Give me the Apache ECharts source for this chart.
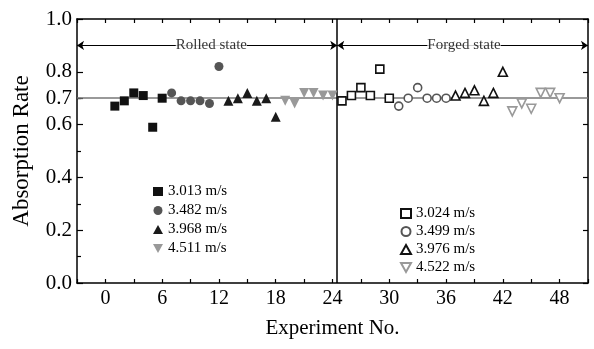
<!DOCTYPE html>
<html>
<head>
<meta charset="utf-8">
<script src="https://cdn.jsdelivr.net/npm/echarts@6/dist/echarts.min.js"></script>
<style>
  html, body { margin: 0; padding: 0; background: #fff; }
  #chart { width: 594px; height: 349px; }
</style>
</head>
<body>
<div id="chart"></div>
<script>
// rolled state
const rolledSquareX = [1, 2, 3, 4, 5, 6];
const rolledSquareY = [0.67, 0.69, 0.72, 0.71, 0.59, 0.70];
const rolledCircleX = [7, 8, 9, 10, 11, 12];
const rolledCircleY = [0.72, 0.69, 0.69, 0.69, 0.68, 0.82];
const rolledTriX = [13, 14, 15, 16, 17, 18];
const rolledTriY = [0.69, 0.70, 0.72, 0.69, 0.70, 0.63];
const rolledDownX = [19, 20, 21, 22, 23, 24];
const rolledDownY = [0.69, 0.68, 0.72, 0.72, 0.71, 0.71];
// forged state
const forgedSquareX = [25, 26, 27, 28, 29, 30];
const forgedSquareY = [0.69, 0.71, 0.74, 0.71, 0.81, 0.70];
const forgedCircleX = [31, 32, 33, 34, 35, 36];
const forgedCircleY = [0.67, 0.70, 0.74, 0.70, 0.70, 0.70];
const forgedTriX = [37, 38, 39, 40, 41, 42];
const forgedTriY = [0.71, 0.72, 0.73, 0.69, 0.72, 0.80];
const forgedDownX = [43, 44, 45, 46, 47, 48];
const forgedDownY = [0.65, 0.68, 0.66, 0.72, 0.72, 0.70];

const rolledNames = ['3.013 m/s', '3.482 m/s', '3.968 m/s', '4.511 m/s'];
const forgedNames = ['3.024 m/s', '3.499 m/s', '3.976 m/s', '4.522 m/s'];
const yLabelValues = [0, 0.2, 0.4, 0.6, 0.7, 0.8, 1.0];
const refLevel = 0.7;
const splitAt = 24.5;
const arrowLevel = 0.9;

const font = 'Liberation Serif, Times New Roman, serif';
const downTri = 'path://M0,0 L10,0 L5,9 Z';

function pts(xs, ys) {
  return xs.map((x, i) => [x, ys[i]]);
}

function filled(name, xs, ys, symbol, color, size) {
  return {
    name: name, type: 'scatter', data: pts(xs, ys),
    symbol: symbol, symbolSize: size,
    itemStyle: { color: color, opacity: 1 }, z: 5
  };
}

function hollow(name, xs, ys, symbol, color, size) {
  return {
    name: name, type: 'scatter', data: pts(xs, ys),
    symbol: symbol, symbolSize: size,
    itemStyle: { color: '#fff', borderColor: color, borderWidth: 1.6, opacity: 1 }, z: 5
  };
}

const chart = echarts.init(document.getElementById('chart'));

chart.setOption({
  backgroundColor: '#fff',
  animation: false,
  textStyle: { fontFamily: font },
  grid: { left: 77, right: 6, top: 19, bottom: 66 },
  legend: [
    {
      data: rolledNames, orient: 'vertical', left: 148, top: 179,
      itemWidth: 10, itemHeight: 9, itemGap: 4,
      textStyle: { fontFamily: font, fontSize: 15, color: '#000' }
    },
    {
      data: forgedNames, orient: 'vertical', left: 395, top: 201,
      itemWidth: 10, itemHeight: 9, itemGap: 3,
      textStyle: { fontFamily: font, fontSize: 15, color: '#000' }
    }
  ],
  xAxis: [
    {
      type: 'value', min: -3, max: 51, interval: 3,
      name: 'Experiment No.', nameLocation: 'middle', nameGap: 35,
      nameTextStyle: { fontFamily: font, fontSize: 21, color: '#000' },
      axisLine: { onZero: false, lineStyle: { color: '#000', width: 1.5 } },
      axisTick: { inside: true, length: 4, lineStyle: { color: '#000', width: 1.2 } },
      axisLabel: {
        fontFamily: font, fontSize: 20, color: '#000', margin: 6,
        formatter: v => (v % 6 === 0 ? String(v) : '')
      },
      splitLine: { show: false }
    },
    {
      type: 'value', position: 'top', min: -3, max: 51, interval: 3,
      axisLine: { onZero: false, lineStyle: { color: '#000', width: 1.5 } },
      axisTick: { inside: true, length: 4, lineStyle: { color: '#000', width: 1.2 } },
      axisLabel: { show: false },
      splitLine: { show: false }
    }
  ],
  yAxis: [
    {
      type: 'value', min: 0, max: 1, interval: 0.2,
      name: 'Absorption Rate', nameLocation: 'middle', nameGap: 44,
      nameTextStyle: { fontFamily: font, fontSize: 23, color: '#000' },
      axisLine: { onZero: false, lineStyle: { color: '#000', width: 1.5 } },
      axisTick: {
        inside: true, length: 6, customValues: yLabelValues,
        lineStyle: { color: '#000', width: 1.2 }
      },
      minorTick: { show: true, splitNumber: 2, length: 4, lineStyle: { color: '#000', width: 1.2 } },
      axisLabel: {
        fontFamily: font, fontSize: 21, color: '#000', margin: 5,
        customValues: yLabelValues,
        formatter: v => v.toFixed(1)
      },
      splitLine: { show: false }
    },
    {
      type: 'value', position: 'right', min: 0, max: 1, interval: 0.2,
      axisLine: { onZero: false, lineStyle: { color: '#000', width: 1.5 } },
      axisTick: { inside: true, length: 5, lineStyle: { color: '#000', width: 1.2 } },
      axisLabel: { show: false },
      splitLine: { show: false }
    }
  ],
  series: [
    filled(rolledNames[0], rolledSquareX, rolledSquareY, 'rect', '#111', 9),
    filled(rolledNames[1], rolledCircleX, rolledCircleY, 'circle', '#555', 9),
    filled(rolledNames[2], rolledTriX, rolledTriY, 'triangle', '#1a1a1a', 10),
    filled(rolledNames[3], rolledDownX, rolledDownY, downTri, '#999', 10),
    hollow(forgedNames[0], forgedSquareX, forgedSquareY, 'rect', '#111', 8),
    hollow(forgedNames[1], forgedCircleX, forgedCircleY, 'circle', '#555', 8),
    hollow(forgedNames[2], forgedTriX, forgedTriY, 'triangle', '#111', 9),
    hollow(forgedNames[3], forgedDownX, forgedDownY, downTri, '#999', 9),
    {
      // reference line, divider and state arrows
      type: 'scatter', data: [], silent: true, z: 3,
      markLine: {
        silent: true, animation: false,
        symbol: ['none', 'none'],
        data: [
          {
            yAxis: refLevel,
            lineStyle: { color: '#777', width: 1.5, type: 'solid' }
          },
          {
            xAxis: splitAt,
            lineStyle: { color: '#000', width: 1.5, type: 'solid' }
          },
          [
            { coord: [-3, arrowLevel], symbol: 'arrow', symbolSize: 7 },
            { coord: [splitAt, arrowLevel], symbol: 'arrow', symbolSize: 7 }
          ],
          [
            { coord: [splitAt, arrowLevel], symbol: 'arrow', symbolSize: 7 },
            { coord: [51, arrowLevel], symbol: 'arrow', symbolSize: 7 }
          ]
        ],
        lineStyle: { color: '#000', width: 1.2, type: 'solid' },
        label: { show: false }
      }
    },
    {
      type: 'scatter', silent: true, z: 6,
      symbolSize: 0,
      data: [
        { value: [11.2, arrowLevel], label: { formatter: 'Rolled state' } },
        { value: [37.9, arrowLevel], label: { formatter: 'Forged state' } }
      ],
      label: {
        show: true, position: 'inside',
        fontFamily: font, fontSize: 15, color: '#000',
        backgroundColor: '#fff', padding: [1, 0]
      }
    }
  ]
});
</script>
</body>
</html>
